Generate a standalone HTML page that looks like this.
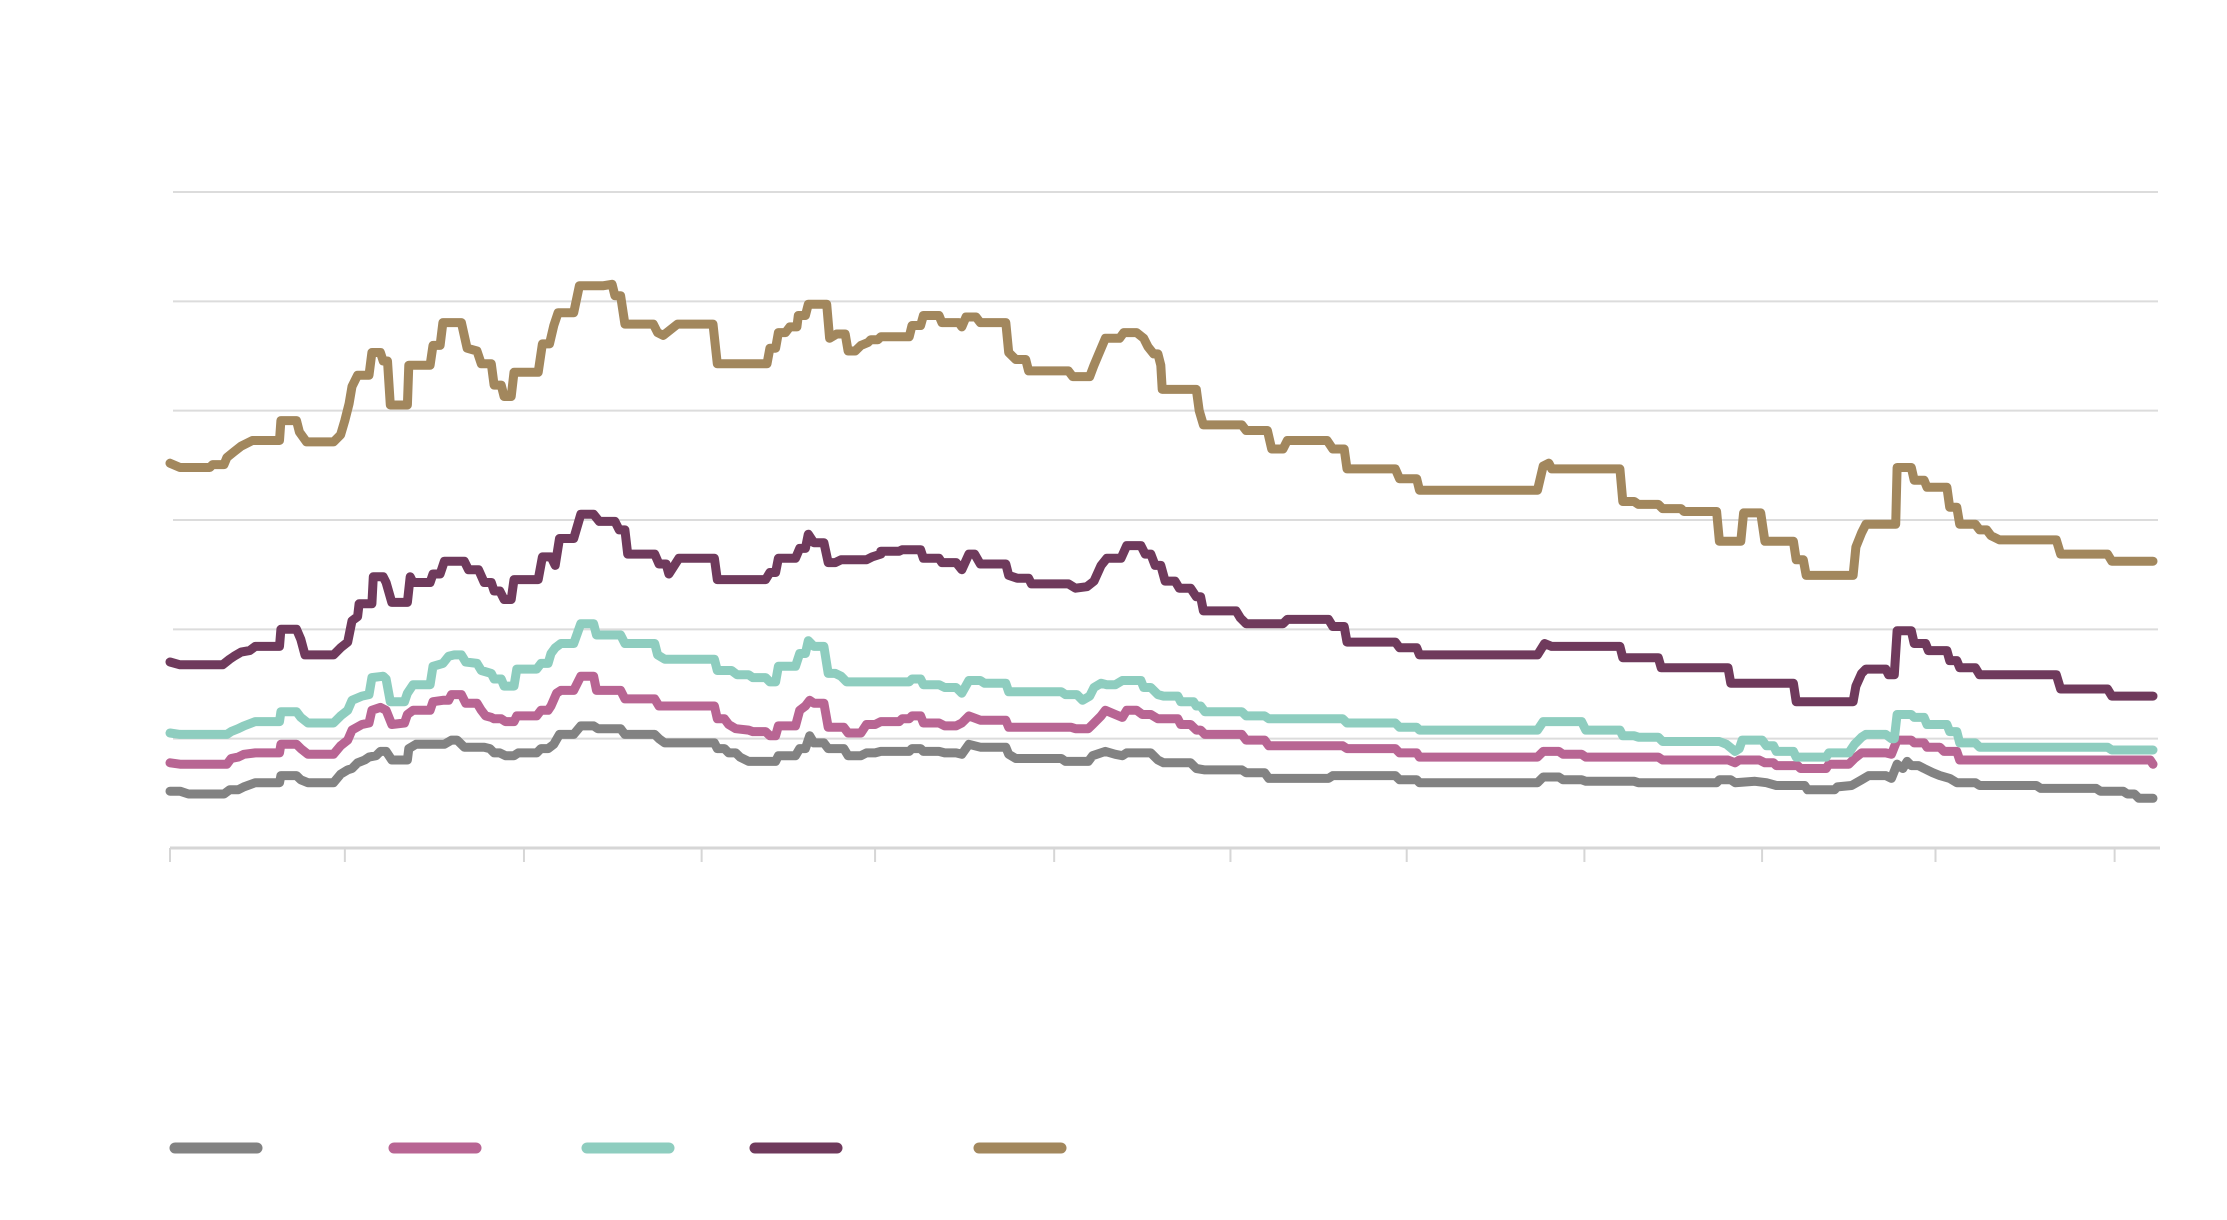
<!DOCTYPE html>
<html><head><meta charset="utf-8"><title>Chart</title>
<style>html,body{margin:0;padding:0;background:#fff;}svg{display:block;}</style></head>
<body>
<svg id="chart" width="2227" height="1220" xmlns="http://www.w3.org/2000/svg"></svg>
<script>
const gridValues=[77,154,231,308,385,462];
const xTicks=[0,123,249,374,496,622,746,870,995,1120,1242,1368];
const seriesNames=['gray','pink','teal','purple','gold'];
const seriesColors=['#828282','#b86593','#8ecdbf','#6f3a5c','#a2875d'];
const gold=[0,271,7,268,28,268,30,270,38,270,40,275,45,279,50,283,58,287,77,287,78,301,89,301,91,293,96,286,115,286,120,291,123,301,126,313,128,325,132,333,140,333,142,349,148,349,150,343,153,343,155,312,167,312,168,340,183,340,185,354,190,354,192,370,205,370,209,352,216,350,219,341,226,341,228,326,233,326,235,318,240,318,242,335,259,335,262,355,267,355,270,368,273,377,284,377,288,396,305,396,311,397,313,389,317,389,320,369,340,369,343,363,347,361,352,365,357,369,382,369,385,341,420,341,422,352,426,352,428,363,433,363,436,367,441,367,442,375,447,375,449,383,462,383,464,359,469,362,475,362,477,350,482,350,486,354,491,356,493,358,498,358,500,360,520,360,522,368,528,368,530,375,541,375,543,370,555,370,557,367,560,374,567,374,570,370,588,370,590,349,595,344,602,344,604,336,632,336,635,332,647,332,650,340,653,347,658,359,668,359,671,363,680,363,685,359,688,353,692,348,695,348,697,340,698,323,722,323,724,308,727,298,754,298,757,294,772,294,775,281,783,281,786,287,814,287,818,281,826,281,828,267,862,267,865,260,877,260,879,252,962,252,966,269,970,271,972,267,1020,267,1022,244,1030,244,1033,242,1047,242,1050,239,1063,239,1065,237,1088,237,1090,216,1105,216,1107,236,1119,236,1122,216,1142,216,1144,203,1149,203,1151,192,1184,192,1186,212,1190,222,1193,228,1214,228,1215,268,1225,268,1227,259,1234,259,1236,254,1250,254,1252,240,1257,240,1259,228,1270,228,1273,224,1278,224,1281,220,1287,217,1327,217,1330,207,1363,207,1366,202,1395,202];
const purple=[0,131,7,129,37,129,42,133,45,135,50,138,56,139,60,142,77,142,78,154,89,154,92,147,95,136,115,136,120,141,125,145,128,160,132,163,133,172,142,172,143,191,150,191,152,187,156,173,167,173,169,191,171,187,183,187,185,193,190,193,193,202,207,202,210,196,217,196,221,187,226,187,228,181,232,181,235,175,240,175,242,189,259,189,262,205,268,205,271,199,274,218,284,218,289,235,298,235,302,230,313,230,316,224,320,224,322,207,341,207,344,200,349,200,351,193,358,204,383,204,385,189,419,189,422,194,426,194,428,204,440,204,443,211,447,211,449,221,453,215,460,215,463,201,468,201,472,203,490,203,494,205,500,207,500,209,513,209,515,210,528,210,530,204,541,204,543,201,553,201,557,196,562,207,566,207,570,200,588,200,590,192,596,190,604,190,606,186,632,186,637,183,645,184,650,188,655,199,659,204,669,204,673,213,683,213,686,207,690,207,693,199,697,199,700,188,707,188,710,183,718,183,722,177,725,177,727,167,750,167,753,162,757,158,783,158,786,161,815,161,818,156,826,156,828,145,862,145,865,141,877,141,879,136,962,136,967,144,972,142,1020,142,1022,134,1047,134,1049,127,1096,127,1098,116,1142,116,1144,103,1184,103,1186,114,1190,123,1193,126,1207,126,1209,122,1213,122,1215,153,1225,153,1227,144,1235,144,1237,139,1250,139,1252,132,1257,132,1259,127,1270,127,1273,122,1327,122,1330,112,1363,112,1366,107,1395,107];
const teal=[0,81,7,80,40,80,43,82,48,84,52,86,60,89,77,89,78,96,89,96,92,92,97,88,115,88,120,93,125,97,128,104,135,107,140,108,142,120,150,121,152,119,155,103,165,103,167,109,171,115,183,115,185,128,192,130,196,135,200,136,205,136,208,131,216,130,219,125,226,123,228,119,233,119,235,114,242,114,244,126,258,126,261,130,266,130,268,137,271,141,275,144,284,144,289,158,298,158,300,150,317,150,320,144,341,144,343,136,348,133,383,133,385,125,395,125,399,122,407,122,410,120,419,120,422,117,426,117,428,128,440,128,443,137,447,137,449,146,453,142,460,142,463,123,468,123,472,121,476,117,520,117,522,119,528,119,530,115,541,115,545,113,553,113,557,109,562,118,570,118,573,116,588,116,590,110,627,110,630,108,638,108,642,104,647,107,650,113,655,116,659,115,665,115,670,118,683,118,685,113,690,113,695,108,699,107,709,107,711,103,720,103,722,100,725,100,728,96,754,96,757,93,770,93,773,91,825,91,828,88,862,88,865,85,877,85,879,83,962,83,966,89,970,89,993,89,996,83,1020,83,1022,79,1030,79,1033,78,1047,78,1050,75,1090,75,1095,73,1101,68,1104,70,1106,76,1120,76,1123,72,1128,72,1130,68,1142,68,1144,64,1165,64,1167,67,1181,67,1185,73,1190,78,1193,80,1207,80,1211,77,1213,77,1215,94,1225,94,1227,92,1234,92,1236,87,1250,87,1252,82,1257,82,1259,74,1270,74,1273,71,1363,71,1366,69,1395,69];
const pink=[0,60,7,59,40,59,43,63,48,64,52,66,60,67,77,67,78,73,89,73,92,70,97,66,115,66,120,72,125,76,128,83,135,87,140,88,142,97,148,99,152,97,156,87,165,88,167,94,171,97,183,97,185,103,192,104,196,104,198,108,205,108,208,102,216,102,219,97,222,93,226,92,228,91,233,91,236,89,242,89,244,93,258,93,261,97,266,97,268,100,272,109,275,111,284,111,289,121,298,121,300,111,317,111,320,105,341,105,344,100,383,100,385,91,390,91,393,87,398,84,407,83,410,82,419,82,422,79,426,79,428,86,440,86,443,97,447,100,450,104,453,102,460,102,463,85,474,85,477,81,486,81,490,87,496,87,500,89,513,89,515,91,520,91,522,93,528,93,530,88,541,88,545,86,553,86,557,88,562,93,570,90,588,90,590,85,634,85,637,84,646,84,649,87,655,93,658,97,665,94,670,92,673,97,680,97,684,94,690,94,695,91,709,91,711,87,718,87,722,83,725,83,728,80,754,80,757,76,770,76,773,72,825,72,828,70,862,70,865,67,877,67,879,64,962,64,966,68,977,68,980,66,993,66,996,64,1047,64,1050,62,1096,62,1101,60,1104,62,1118,62,1122,60,1128,60,1130,58,1145,58,1147,56,1165,56,1167,59,1181,59,1185,63,1190,67,1207,67,1211,66,1215,76,1225,76,1227,74,1234,74,1236,71,1245,71,1248,68,1257,68,1259,62,1393,62,1395,59];
const gray=[0,40,7,40,13,38,38,38,42,41,48,41,52,43,60,46,77,46,78,51,89,51,92,48,97,46,115,46,120,52,125,55,128,56,132,60,137,62,140,64,145,65,148,68,152,68,156,62,167,62,168,70,173,73,193,73,198,76,202,76,207,71,221,71,225,70,228,67,232,67,236,65,242,65,245,67,258,67,261,70,266,70,270,73,274,80,284,80,289,86,298,86,301,84,317,84,320,80,341,80,344,77,348,74,383,74,385,70,390,70,393,67,398,67,401,64,407,61,426,61,428,65,440,65,443,70,447,70,450,79,453,74,460,74,463,70,474,70,477,65,486,65,490,67,496,67,500,68,520,68,522,70,528,70,530,68,541,68,545,67,553,67,557,66,562,73,570,71,588,71,590,66,595,63,627,63,630,61,646,61,649,65,658,68,665,66,670,65,673,67,690,67,695,62,699,60,718,60,722,56,728,55,754,55,757,53,770,53,773,49,815,49,818,51,862,51,865,48,877,48,879,46,962,46,966,50,977,50,980,48,993,48,996,47,1030,47,1033,46,1088,46,1090,48,1098,48,1101,46,1115,47,1123,46,1130,44,1150,44,1152,41,1171,41,1173,43,1183,44,1190,48,1195,51,1207,51,1211,49,1215,59,1219,56,1222,61,1225,58,1230,58,1234,56,1240,53,1245,51,1252,49,1257,46,1270,46,1273,44,1313,44,1316,42,1355,42,1358,40,1374,40,1377,38,1382,38,1385,35,1395,35];

const NS='http://www.w3.org/2000/svg';
const svg=document.getElementById('chart');
const X0=170,X1=2153,Y0=848,Y1=192;
function xScale(t){return X0+t*(X1-X0)/1395;}
function yScale(v){return Y0-v*(Y0-Y1)/462;}
function mk(tag,attrs){const e=document.createElementNS(NS,tag);for(const k in attrs)e.setAttribute(k,attrs[k]);svg.appendChild(e);return e;}

gridValues.forEach(v=>{
  const g=mk('line',{x1:173,x2:2158,y1:yScale(v),y2:yScale(v),stroke:'#dcdcdc','stroke-width':2});
  
  
});
const base=mk('line',{x1:170,x2:2160,y1:Y0,y2:Y0,stroke:'#d6d6d6','stroke-width':3});


xTicks.forEach(t=>{
  const tk=mk('line',{x1:xScale(t),x2:xScale(t),y1:Y0,y2:Y0+14,stroke:'#d6d6d6','stroke-width':2});
  
  
});

const allSeries=[gray,pink,teal,purple,gold];
allSeries.forEach((arr,i)=>{
  let d='';
  for(let j=0;j<arr.length;j+=2){d+=(j?'L':'M')+xScale(arr[j]).toFixed(1)+' '+yScale(arr[j+1]).toFixed(1);}
  const p=mk('path',{d:d,fill:'none',stroke:seriesColors[i],'stroke-width':9,'stroke-linejoin':'round','stroke-linecap':'round'});
  
  
});

const legendX=[170,389,582,750,974];
legendX.forEach((x,i)=>{
  const s=mk('line',{x1:x+5,x2:x+87,y1:1148,y2:1148,stroke:seriesColors[i],'stroke-width':11,'stroke-linecap':'round'});
  
  
});
</script>
</body></html>
